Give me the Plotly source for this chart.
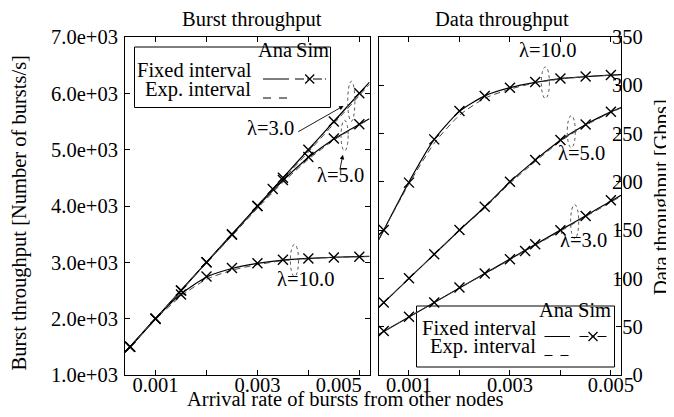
import plotly.graph_objects as go

# arrival rate of bursts (x) -- analytic curves span the whole axis
x_ana = [0.0004, 0.0005, 0.001, 0.0015, 0.002, 0.0025, 0.003, 0.0035, 0.004, 0.0045, 0.005, 0.0052]
x_sim = [0.0005, 0.001, 0.0015, 0.002, 0.0025, 0.003, 0.0035, 0.004, 0.0045, 0.005]
x_sim_l3 = [0.0005, 0.001, 0.0015, 0.002, 0.0025, 0.003, 0.0033, 0.0035, 0.004, 0.0045, 0.005]

# burst throughput [bursts/s]
burst_ana_l3 = [1400, 1500, 2000, 2500, 3000, 3500, 4000, 4500, 5000, 5500, 6000, 6200]
burst_ana_l5 = [1400, 1500, 2000, 2500, 3000, 3490, 3990, 4450, 4860, 5190, 5450, 5550]
burst_ana_l10 = [1400, 1500, 2000, 2440, 2740, 2890, 2980, 3040, 3070, 3090, 3100, 3105]
burst_exp_l3 = [1400, 1500, 2000, 2500, 3000, 3490, 3980, 4470, 4960, 5460, 5960, 6160]
burst_exp_l5 = [1400, 1500, 2000, 2500, 2990, 3470, 3960, 4420, 4830, 5170, 5440, 5540]
burst_exp_l10 = [1400, 1500, 1990, 2400, 2700, 2860, 2960, 3030, 3065, 3088, 3100, 3105]
burst_sim_l3 = [1500, 2000, 2500, 3000, 3500, 4000, 4300, 4500, 5000, 5500, 6000]
burst_sim_l5 = [1500, 2000, 2500, 3000, 3490, 4000, 4460, 4870, 5200, 5450]
burst_sim_l10 = [1500, 2000, 2430, 2750, 2900, 2985, 3045, 3070, 3085, 3100]

# data throughput [Gbps]
data_ana_l3 = [42, 45, 60, 75, 90, 105, 120, 135, 150, 165, 180, 186]
data_ana_l5 = [70, 75, 100, 125, 150, 174, 200, 222.5, 243, 259.5, 272.5, 277]
data_ana_l10 = [140, 150, 200, 244, 273, 289, 297.5, 303, 307, 309, 310.5, 311]
data_exp_l3 = [42, 45, 60, 75, 90, 104.5, 119.5, 134.5, 149, 164, 179, 185]
data_exp_l5 = [70, 75, 100, 125, 149.5, 173, 198.5, 221, 242, 258.5, 272, 276.5]
data_exp_l10 = [140, 150, 198, 240, 269, 286.5, 296, 302.5, 306.5, 309, 310.5, 311]
data_sim_l3 = [45.6, 60.4, 75, 90.5, 105, 119.8, 128.5, 135.3, 149.8, 164.7, 180.9]
data_sim_l5 = [75, 100.1, 125, 150.2, 174.3, 200.2, 222.7, 243.4, 259.5, 272.7]
data_sim_l10 = [150.2, 199.2, 244, 273.4, 289, 297.5, 303.4, 307, 309, 310.6]

FIG_SP = "\u2007"  # figure space, used to line tick labels up like the original
x_ticks = [0.001, 0.002, 0.003, 0.004, 0.005]
x_ticktext_l = ["0.001", "", "0.003", "", "0.005" + FIG_SP * 4]
x_ticktext_r = ["0.001", "", "0.003", "", "0.005"]
burst_ticks = [1000, 2000, 3000, 4000, 5000, 6000, 7000]
burst_ticktext = ["1.0e+03", "2.0e+03", "3.0e+03", "4.0e+03", "5.0e+03", "6.0e+03", "7.0e+03"]
data_ticks = [0, 50, 100, 150, 200, 250, 300, 350]
data_ticktext = [FIG_SP * 2 + "0", FIG_SP + "50", "100", "150", "200", "250", "300", "350"]

FONT = "Liberation Serif"
FS = 20.5

# plot area in pixels
PL, PR, PT, PB = 117, 613, 29, 367


def pxx(x):
    return (x - PL) / (PR - PL)


def pxy(y):
    return (PB - y) / (PB - PT)


fig = go.Figure()

panels = [
    ("x", "y", [burst_ana_l3, burst_ana_l5, burst_ana_l10], [burst_exp_l3, burst_exp_l5, burst_exp_l10],
     [(x_sim_l3, burst_sim_l3), (x_sim, burst_sim_l5), (x_sim, burst_sim_l10)]),
    ("x2", "y2", [data_ana_l3, data_ana_l5, data_ana_l10], [data_exp_l3, data_exp_l5, data_exp_l10],
     [(x_sim_l3, data_sim_l3), (x_sim, data_sim_l5), (x_sim, data_sim_l10)]),
]
for xa, ya, ana, exp, sim in panels:
    for ys in ana:
        fig.add_trace(go.Scatter(x=x_ana, y=ys, xaxis=xa, yaxis=ya, mode="lines",
                                 line=dict(color="black", width=1.2, shape="spline", smoothing=0.6),
                                 showlegend=False, hoverinfo="skip"))
    for ys in exp:
        fig.add_trace(go.Scatter(x=x_ana, y=ys, xaxis=xa, yaxis=ya, mode="lines",
                                 line=dict(color="#444", width=1, dash="6px,4px", shape="spline", smoothing=0.6),
                                 showlegend=False, hoverinfo="skip"))
    for xs, ys in sim:
        fig.add_trace(go.Scatter(x=xs, y=ys, xaxis=xa, yaxis=ya, mode="markers",
                                 marker=dict(symbol="x-thin", size=10, line=dict(width=1.4, color="black")),
                                 showlegend=False))

# legend sample markers (on a hidden full-size axis in paper fractions)
fig.add_trace(go.Scatter(x=[pxx(301.7), pxx(585)], y=[pxy(71), pxy(328.5)], xaxis="x3", yaxis="y3",
                         mode="markers", marker=dict(symbol="x-thin", size=9, line=dict(width=1.3, color="black")),
                         showlegend=False, hoverinfo="skip"))

shapes = []
annotations = []


def txt(s, x, y, ref=("paper", "paper"), angle=0):
    shift = dict(xshift=-11) if angle else dict(yshift=8)
    annotations.append(dict(text=s, x=x, y=y, xref=ref[0], yref=ref[1], xanchor="center", yanchor="middle",
                            showarrow=False, textangle=angle, font=dict(family=FONT, size=FS, color="black"),
                            **shift))


def legend_box(bx0, by0, bx1, by1, centers, rows, ana_x, sim_x):
    shapes.append(dict(type="rect", xref="paper", yref="paper", x0=pxx(bx0), x1=pxx(bx1), y0=pxy(by0), y1=pxy(by1),
                       line=dict(color="black", width=1), fillcolor="white", layer="below"))
    for s, cx, ry in zip(["Ana", "Sim", "Fixed interval", "Exp. interval"], centers, [rows[0], rows[0], rows[1], rows[2]]):
        txt(s, pxx(cx), pxy(ry))
    shapes.append(dict(type="line", xref="paper", yref="paper", x0=pxx(ana_x[0]), x1=pxx(ana_x[1]),
                       y0=pxy(rows[1] + 1), y1=pxy(rows[1] + 1), line=dict(color="black", width=1)))
    shapes.append(dict(type="line", xref="paper", yref="paper", x0=pxx(sim_x[0]), x1=pxx(sim_x[1]),
                       y0=pxy(rows[1] + 1), y1=pxy(rows[1] + 1), line=dict(color="black", width=1, dash="dashdot")))
    shapes.append(dict(type="line", xref="paper", yref="paper", x0=pxx(ana_x[0]), x1=pxx(ana_x[1] + 3),
                       y0=pxy(rows[2] + 1), y1=pxy(rows[2] + 1), line=dict(color="black", width=1, dash="8px,8px")))


legend_box(126.5, 39, 322.5, 99.5, (267, 304, 186, 190), (50, 70, 89), (255, 281), (287, 318))
legend_box(408.5, 298, 606.5, 359, (548, 586, 471, 475), (310, 327.5, 346.5), (536.5, 562), (571.5, 598.5))

# lambda markers: dotted ellipses and labels
ellipses = [
    ("x", "y", 0.004843, 5858, 0.00007, 355),
    ("x", "y", 0.004711, 5250, 0.00007, 270),
    ("x", "y", 0.003727, 3034, 0.00008, 284),
    ("x2", "y2", 0.003702, 302.7, 0.00008, 16.3),
    ("x2", "y2", 0.004215, 252, 0.00008, 16.6),
    ("x2", "y2", 0.004282, 158.8, 0.00008, 17.6),
]
for xr, yr, cx, cy, rx, ry in ellipses:
    shapes.append(dict(type="circle", xref=xr, yref=yr, x0=cx - rx, x1=cx + rx, y0=cy - ry, y1=cy + ry,
                       line=dict(color="#555", width=1, dash="dot")))

txt("\u03bb=3.0", 0.003248, 5245, ref=("x", "y"))
txt("\u03bb=5.0", 0.004632, 4417, ref=("x", "y"))
txt("\u03bb=10.0", 0.003937, 2555, ref=("x", "y"))
txt("\u03bb=10.0", 0.003736, 328.6, ref=("x2", "y2"))
txt("\u03bb=5.0", 0.004426, 221.6, ref=("x2", "y2"))
txt("\u03bb=3.0", 0.004459, 131.9, ref=("x2", "y2"))

for tail, head in [((0.003772, 5303), (0.004691, 5777)), ((0.004613, 4624), (0.004678, 4908))]:
    annotations.append(dict(text="", x=head[0], y=head[1], ax=tail[0], ay=tail[1], xref="x", yref="y",
                            axref="x", ayref="y", showarrow=True, arrowhead=2, arrowsize=1, arrowwidth=0.9,
                            arrowcolor="black"))

# titles
txt("Burst throughput", pxx(244), pxy(19))
txt("Data throughput", pxx(494), pxy(19))
txt("Arrival rate of bursts from other nodes", pxx(337), pxy(399))
txt("Burst throughput [Number of bursts/s]", pxx(21.5), pxy(205), angle=-90)
txt("Data throughput [Gbps]", pxx(664), pxy(189), angle=-90)

axis_style = dict(showline=True, linecolor="black", linewidth=1, mirror="ticks", ticks="inside", ticklen=5,
                  tickwidth=1, tickcolor="black", showgrid=False, zeroline=False,
                  tickfont=dict(family=FONT, size=FS, color="black"))
x_split_l = (361.5 - PL) / (PR - PL)
x_split_r = (370.7 - PL) / (PR - PL)

fig.update_layout(
    width=674, height=417,
    margin=dict(l=PL, r=674 - PR, t=PT, b=417 - PB),
    paper_bgcolor="white", plot_bgcolor="rgba(0,0,0,0)",
    showlegend=False,
    xaxis=dict(domain=[0, x_split_l], range=[0.0004, 0.0052], tickvals=x_ticks, ticktext=x_ticktext_l,
               anchor="y", ticklabelstandoff=-9, **axis_style),
    yaxis=dict(domain=[0, 1], range=[1000, 7000], tickvals=burst_ticks, ticktext=burst_ticktext,
               anchor="x", ticklabelstandoff=2, **axis_style),
    xaxis2=dict(domain=[x_split_r, 1], range=[0.0004, 0.0052], tickvals=x_ticks, ticktext=x_ticktext_r,
                anchor="y2", ticklabelstandoff=-9, **axis_style),
    yaxis2=dict(domain=[0, 1], range=[0, 350], tickvals=data_ticks, ticktext=data_ticktext,
                anchor="x2", side="right", ticklabelstandoff=-14, **axis_style),
    xaxis3=dict(domain=[0, 1], range=[0, 1], visible=False, anchor="y3", fixedrange=True),
    yaxis3=dict(domain=[0, 1], range=[0, 1], visible=False, anchor="x3", fixedrange=True),
    shapes=shapes,
    annotations=annotations,
)

fig.write_html("out.html")
